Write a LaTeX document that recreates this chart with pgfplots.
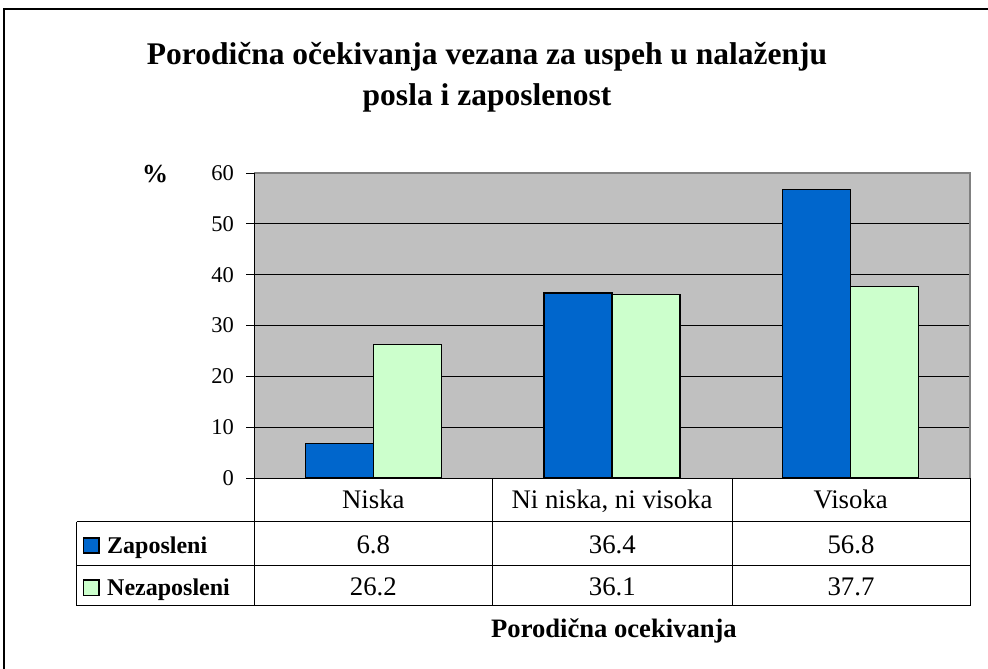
\documentclass[border=0pt]{standalone}
\usepackage{fontspec}
\setmainfont{Liberation Serif}
\usepackage{pgfplots}
\pgfplotsset{compat=1.18}
\definecolor{barblue}{RGB}{0,102,204}
\definecolor{bargreen}{RGB}{204,255,204}
\definecolor{plotgray}{RGB}{192,192,192}
\definecolor{edgegray}{RGB}{128,128,128}
\newcommand{\titlefont}{\fontsize{31.5bp}{37bp}\selectfont\bfseries}
\newcommand{\tabfont}{\fontsize{26.8bp}{30bp}\selectfont}
\newcommand{\rowfont}{\fontsize{24bp}{28bp}\selectfont\bfseries}
\begin{document}
\begin{tikzpicture}[x=1bp,y=1bp]
\useasboundingbox (0,0) rectangle (988,-669);
\draw[line width=2.5bp] (4,-669) -- (4,-9) -- (988,-9);
\node[anchor=base, inner sep=0pt] at (487,-65) {\titlefont Porodična očekivanja vezana za uspeh u nalaženju};
\node[anchor=base, inner sep=0pt] at (487,-106) {\titlefont posla i zaposlenost};
\begin{axis}[
  at={(254bp,-478bp)}, anchor=south west,
  scale only axis, width=716bp, height=305bp,
  xmin=-0.5, xmax=2.5, ymin=0, ymax=60,
  ybar=0pt, bar width=68bp,
  axis background/.style={fill=plotgray},
  axis line style={draw=none},
  ytick={0,10,20,30,40,50,60},
  ymajorgrids, major grid style={black, line width=0.8bp},
  tick pos=left, tick align=outside, major tick length=8bp,
  ytick style={black, line width=0.8bp},
  xtick={0,1,2},
  xticklabels={Niska, {Ni niska, ni visoka}, Visoka},
  xtick style={draw=none},
  xticklabel style={font=\tabfont, anchor=base, inner sep=0pt, yshift=-22bp},
  yticklabel style={font=\fontsize{22.5bp}{26bp}\selectfont, anchor=east, inner sep=0pt, xshift=-12bp},
  /pgf/number format/assume math mode=true,
  clip=false,
]
\addplot[fill=barblue, draw=black, line width=1.3bp] coordinates {(0,6.8) (1,36.4) (2,56.8)};
\addplot[fill=bargreen, draw=black, line width=1.3bp] coordinates {(0,26.2) (1,36.1) (2,37.7)};
\end{axis}
% plot frame
\draw[edgegray, line width=1.5bp] (254,-173) -- (970,-173) -- (970,-478);
\draw[black, line width=1bp] (254,-173) -- (254,-605.7);
% data table
\draw[black, line width=1bp] (254,-478) -- (970,-478);
\draw[black, line width=1bp] (492.7,-478) -- (492.7,-605.7);
\draw[black, line width=1bp] (732,-478) -- (732,-605.7);
\draw[black, line width=1bp] (970,-478) -- (970,-605.7);
\draw[black, line width=1bp] (76.7,-521.7) -- (970,-521.7);
\draw[black, line width=1bp] (76.7,-565.7) -- (970,-565.7);
\draw[black, line width=1bp] (76.7,-605.7) -- (970,-605.7);
\draw[black, line width=1bp] (76.7,-521.7) -- (76.7,-605.7);
\draw[fill=barblue, line width=1.2bp] (83.5,-538) rectangle (99,-553);
\draw[fill=bargreen, line width=1.2bp] (83.5,-580) rectangle (99,-595.5);
\node[anchor=base west, inner sep=0pt] at (107,-553) {\rowfont Zaposleni};
\node[anchor=base west, inner sep=0pt] at (107,-595) {\rowfont Nezaposleni};
\node[anchor=base, inner sep=0pt] at (373.3,-553) {\tabfont 6.8};
\node[anchor=base, inner sep=0pt] at (612.3,-553) {\tabfont 36.4};
\node[anchor=base, inner sep=0pt] at (851,-553) {\tabfont 56.8};
\node[anchor=base, inner sep=0pt] at (373.3,-595) {\tabfont 26.2};
\node[anchor=base, inner sep=0pt] at (612.3,-595) {\tabfont 36.1};
\node[anchor=base, inner sep=0pt] at (851,-595) {\tabfont 37.7};
\node[anchor=base, inner sep=0pt] at (155,-183) {\fontsize{26bp}{30bp}\selectfont\bfseries \%};
\node[anchor=base, inner sep=0pt] at (614,-637) {\fontsize{26.6bp}{30bp}\selectfont\bfseries Porodična ocekivanja};
\end{tikzpicture}
\end{document}
